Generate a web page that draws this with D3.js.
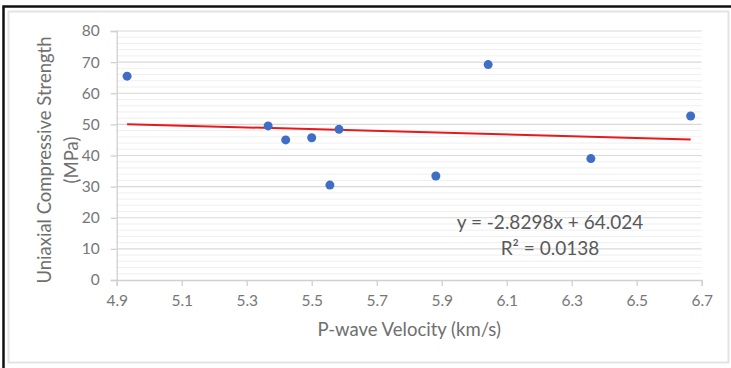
<!DOCTYPE html>
<html>
<head>
<meta charset="utf-8">
<script src="https://cdn.jsdelivr.net/npm/d3@7"></script>
<style>
  body { margin: 0; background: #fff; }
  svg { display: block; font-family: Lato, "Open Sans", sans-serif; }
</style>
</head>
<body>
<div id="chart"></div>
<script>
// P-wave velocity (km/s) vs UCS (MPa)
const velocity = [4.932, 5.366, 5.420, 5.500, 5.584, 5.556, 5.882, 6.043, 6.359, 6.666];
const ucs = [65.5, 49.5, 45.0, 45.7, 48.4, 30.5, 33.4, 69.2, 39.0, 52.7];
const xTicks = [4.9, 5.1, 5.3, 5.5, 5.7, 5.9, 6.1, 6.3, 6.5, 6.7];
const yTicks = [0, 10, 20, 30, 40, 50, 60, 70, 80];
const slope = -2.8298, intercept = 64.024;
const eqLines = ["y = -2.8298x + 64.024", "R² = 0.0138"];

const width = 731, height = 368;
const svg = d3.select("#chart").append("svg")
    .attr("width", width)
    .attr("height", height);

// frame
svg.append("rect")
    .attr("x", 8.5).attr("y", 11.5)
    .attr("width", 720).attr("height", 351)
    .attr("fill", "none").attr("stroke", "#e3e3e3").attr("stroke-width", 2);
svg.append("path")
    .attr("d", "M3.5,368 V6.5 H731")
    .attr("fill", "none").attr("stroke", "#111").attr("stroke-width", 2.5);

const x = d3.scaleLinear().domain([4.9, 6.7]).range([116.7, 701.7]);
const y = d3.scaleLinear().domain([0, 80]).range([280, 31]);

// gridlines: minor every 2, major every 10
const minor = d3.range(2, 80, 2).filter(v => v % 10 !== 0);
svg.append("g").selectAll("line").data(minor).join("line")
    .attr("x1", x(4.9)).attr("x2", x(6.7))
    .attr("y1", d => y(d)).attr("y2", d => y(d))
    .attr("stroke", "#efefef").attr("stroke-width", 1);
svg.append("g").selectAll("line").data(yTicks.filter(v => v > 0)).join("line")
    .attr("x1", x(4.9)).attr("x2", x(6.7))
    .attr("y1", d => y(d)).attr("y2", d => y(d))
    .attr("stroke", "#d9d9d9").attr("stroke-width", 1.2);

// axes
const xAxis = svg.append("g")
    .attr("transform", `translate(0,${y(0)})`)
    .call(d3.axisBottom(x).tickValues(xTicks).tickFormat(d3.format(".1f")).tickSize(6).tickPadding(9));
const yAxis = svg.append("g")
    .attr("transform", `translate(${x(4.9)},0)`)
    .call(d3.axisLeft(y).tickValues(yTicks).tickSize(6).tickPadding(11));
[xAxis, yAxis].forEach(a => {
    a.select(".domain").attr("stroke", "#d0d0d0").attr("stroke-width", 1.3);
    a.selectAll(".tick line").attr("stroke", "#d0d0d0").attr("stroke-width", 1.3);
    a.selectAll("text").attr("fill", "#777").attr("font-size", 15.5)
        .attr("font-family", "Lato, sans-serif");
});

// trendline
const xr = d3.extent(velocity);
svg.append("line")
    .attr("x1", x(xr[0])).attr("y1", y(slope * xr[0] + intercept))
    .attr("x2", x(xr[1])).attr("y2", y(slope * xr[1] + intercept))
    .attr("stroke", "#e8191c").attr("stroke-width", 2);

// points
svg.append("g").selectAll("circle")
    .data(velocity.map((v, i) => [v, ucs[i]]))
    .join("circle")
    .attr("cx", d => x(d[0]))
    .attr("cy", d => y(d[1]))
    .attr("r", 4.5)
    .attr("fill", "#3f6fc4");

// equation
svg.append("g").selectAll("text").data(eqLines).join("text")
    .attr("x", 550).attr("y", (d, i) => 229 + i * 26)
    .attr("text-anchor", "middle")
    .attr("fill", "#595959").attr("font-size", 19)
    .text(d => d);

// axis titles
svg.append("text")
    .attr("x", x(5.8)).attr("y", 336)
    .attr("text-anchor", "middle")
    .attr("fill", "#6f6f6f").attr("font-size", 18.5)
    .text("P-wave Velocity (km/s)");
const yt = svg.append("text")
    .attr("transform", "translate(51,160) rotate(-90)")
    .attr("text-anchor", "middle")
    .attr("fill", "#6f6f6f").attr("font-size", 18.5);
yt.append("tspan").attr("x", 0).attr("dy", 0).text("Uniaxial Compressive Strength");
yt.append("tspan").attr("x", 0).attr("dy", 27).text("(MPa)");
</script>
</body>
</html>
